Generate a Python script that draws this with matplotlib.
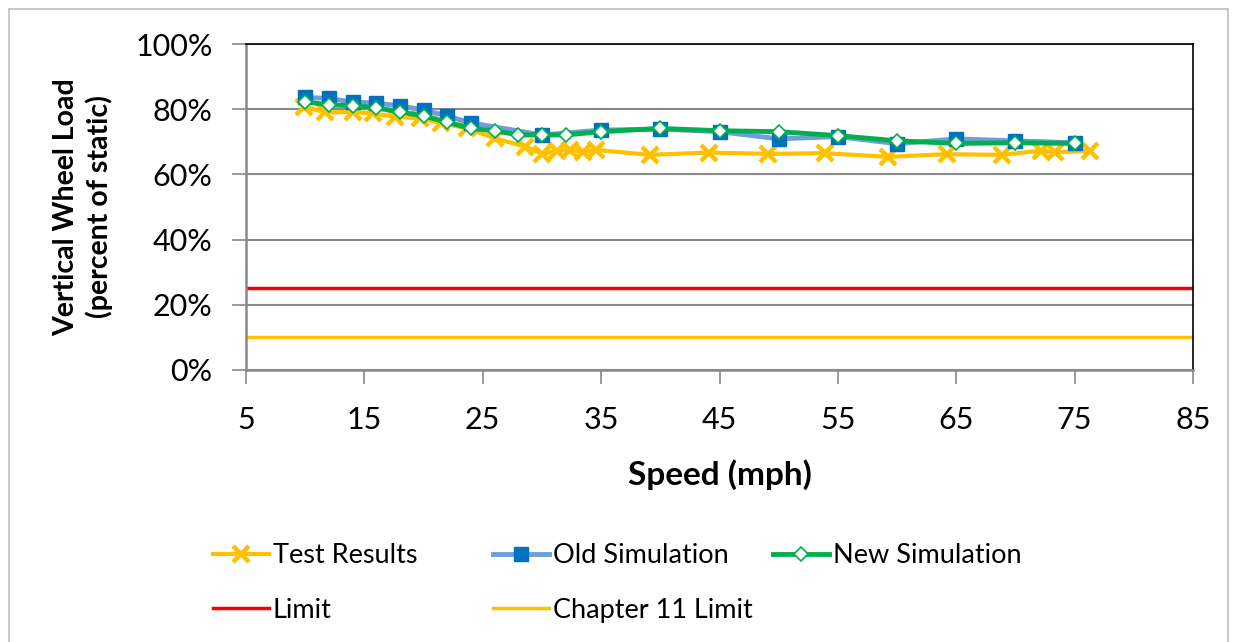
import matplotlib.pyplot as plt
from matplotlib.ticker import PercentFormatter
from matplotlib.patches import Rectangle

plt.rcParams['font.family'] = ['Lato', 'DejaVu Sans']

# data (percent of static wheel load)
test_speed = [9.9, 11.7, 14, 15.7, 17.6, 19.7, 21.5, 23.7, 26, 28.6, 30, 31.3, 32.4, 33.5, 34.6,
              39.1, 44.1, 49.1, 53.9, 59.2, 64.2, 68.9, 72.2, 73.3, 76.3]
test_load = [80.8, 79.0, 79.2, 78.7, 77.7, 77.2, 75.7, 74.1, 71.1, 68.5, 66.3, 67.3, 67.5, 67.0, 67.5,
             66.0, 66.7, 66.3, 66.5, 65.4, 66.2, 66.0, 67.3, 66.8, 67.2]

old_speed = [10, 12, 14, 16, 18, 20, 22, 24, 30, 35, 40, 45, 50, 55, 60, 65, 70, 75]
old_load = [83.6, 83.3, 82.2, 81.9, 81.0, 79.8, 77.9, 75.8, 72.1, 73.6, 73.9, 73.1, 70.9, 71.6,
            69.4, 70.9, 70.3, 69.7]

new_speed = [10, 12, 14, 16, 18, 20, 22, 24, 26, 28, 30, 32, 35, 40, 45, 50, 55, 60, 65, 70, 75]
new_load = [82.3, 81.3, 81.1, 80.4, 79.2, 77.9, 76.0, 74.1, 73.4, 72.1, 72.1, 72.1, 73.1,
            74.1, 73.4, 73.1, 71.9, 70.3, 69.5, 69.7, 69.5]

limit_speed = [5, 85]
limit = [25, 25]
ch11_limit = [10, 10]

fig = plt.figure(figsize=(12.38, 6.42), dpi=100)
ax = fig.add_axes([246 / 1238, 1 - 370 / 642, 947 / 1238, 326 / 642])

grid_col = '#898989'

l_test, = ax.plot(test_speed, test_load, color='#FFC000', lw=3, marker='x', ms=11, mew=3.2,
                  label='Test Results', zorder=3)
l_old, = ax.plot(old_speed, old_load, color='#6E9FD9', lw=3.5, marker='s', ms=10,
                 mfc='#0070C0', mec='#0070C0', label='Old Simulation', zorder=4)
l_new, = ax.plot(new_speed, new_load, color='#00B050', lw=3.5, marker='D', ms=7.5,
                 mfc='white', mec='#00B050', mew=1.2, label='New Simulation', zorder=5)
l_lim, = ax.plot(limit_speed, limit, color='#FF0000', lw=2.5, label='Limit', zorder=2)
l_ch11, = ax.plot(limit_speed, ch11_limit, color='#FFC000', lw=2.5, label='Chapter 11 Limit', zorder=2)

ax.set_xlim(5, 85)
ax.set_ylim(0, 100)
ax.set_xticks(range(5, 86, 10))
ax.set_yticks(range(0, 101, 20))
ax.yaxis.set_major_formatter(PercentFormatter(decimals=0))
ax.grid(axis='y', color=grid_col, lw=1.5)
ax.set_axisbelow(True)

for s in ['left', 'bottom']:
    ax.spines[s].set_color(grid_col)
    ax.spines[s].set_linewidth(1.8)
for s in ['top', 'right']:
    ax.spines[s].set_color('black')
    ax.spines[s].set_linewidth(1.2)

ax.tick_params(axis='both', direction='out', length=10, width=1.2, color=grid_col,
               labelsize=22, pad=14)
ax.tick_params(axis='x', pad=16)

ax.set_xlabel('Speed (mph)', fontsize=24, fontweight='bold', labelpad=18)
ax.set_ylabel('Vertical Wheel Load\n(percent of static)', fontsize=20.5, fontweight='bold',
              labelpad=16, linespacing=1.3)

leg_kw = dict(loc='upper left', frameon=False, fontsize=19.5, handlelength=2.05,
              handletextpad=0.15, labelspacing=1.1, borderaxespad=0, borderpad=0)
fig.legend(handles=[l_test, l_lim], bbox_to_anchor=(213 / 1238, 1 - 543 / 642), **leg_kw)
fig.legend(handles=[l_old, l_ch11], bbox_to_anchor=(493 / 1238, 1 - 543 / 642), **leg_kw)
fig.legend(handles=[l_new], bbox_to_anchor=(773 / 1238, 1 - 543 / 642), **leg_kw)

fig.patches.append(Rectangle((9 / 1238, -0.01), 1219 / 1238, 1 - 9 / 642 + 0.01,
                             transform=fig.transFigure, fill=False, ec='#BFBFBF', lw=1.2))

fig.savefig('out.png', dpi=100)
